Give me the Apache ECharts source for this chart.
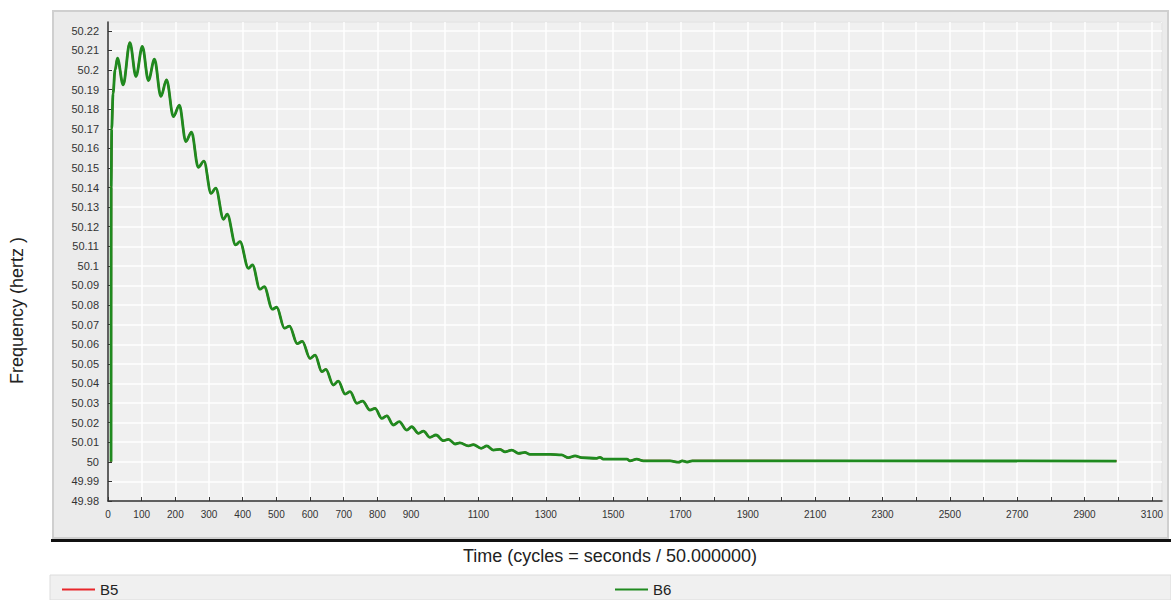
<!DOCTYPE html>
<html>
<head>
<meta charset="utf-8">
<script src="https://cdn.jsdelivr.net/npm/echarts@6/dist/echarts.min.js"></script>
<style>
  html, body { margin: 0; padding: 0; background: #fff; }
  #chart { width: 1171px; height: 600px; }
</style>
</head>
<body>
<div id="chart"></div>
<script>
// time in cycles
var times = [9, 9.5, 11, 15, 21, 28, 45, 65, 83, 102, 120, 138, 157, 174, 194, 212, 231, 248, 268, 285,
  306, 320, 343, 354, 379, 392, 417, 429, 451, 464, 488, 501, 524, 539, 562, 577, 600, 615, 635, 647,
  669, 684, 704, 719, 739, 756, 778, 793, 813, 828, 847, 865, 887, 902, 922, 937, 956, 974, 996, 1011,
  1031, 1045, 1070, 1085, 1108, 1125, 1144, 1164, 1179, 1199, 1219, 1238, 1253, 1313, 1347, 1367, 1387, 1407, 1451, 1461,
  1471, 1541, 1550, 1570, 1590, 1669, 1695, 1705, 1720, 1735, 1760, 2995];
// frequency of bus B6 (hertz)
var freqB6 = [50.000, 50.140, 50.170, 50.188, 50.200, 50.206, 50.1924, 50.214, 50.1967, 50.212, 50.1946, 50.2055, 50.1865, 50.195, 50.1762, 50.182, 50.1635, 50.1683, 50.1503, 50.1535,
  50.1370, 50.1397, 50.1238, 50.1264, 50.1107, 50.1124, 50.0988, 50.1005, 50.0881, 50.0894, 50.0779, 50.0789, 50.0682, 50.0693, 50.0603, 50.0615, 50.0528, 50.0545, 50.0460, 50.0472,
  50.0392, 50.0412, 50.0346, 50.0358, 50.0299, 50.0310, 50.0264, 50.0273, 50.0222, 50.0235, 50.0188, 50.0205, 50.0162, 50.0179, 50.0145, 50.0157, 50.0125, 50.0137, 50.0108, 50.0115,
  50.0091, 50.0097, 50.0081, 50.0088, 50.0069, 50.0081, 50.0060, 50.0064, 50.0051, 50.0060, 50.0043, 50.0048, 50.0038, 50.0038, 50.0035, 50.0021, 50.0030, 50.0021, 50.0018, 50.0023,
  50.0014, 50.0014, 50.0005, 50.0014, 50.0005, 50.0005, 49.9998, 50.0005, 49.9999, 50.0005, 50.0005, 50.0004];
// B5 is hidden under B6 in the picture
var freqB5 = freqB6;

var seriesNames = ['B5', 'B6'];
var seriesColors = ['#e8262b', '#1f8a1f'];

var yMin = 49.98, yMax = 50.2245, yStep = 0.01;
var xMin = 0, xMax = 3130, xStep = 100;

function pairs(xs, ys) {
  return xs.map(function (x, i) { return [x, ys[i]]; });
}

var myChart = echarts.init(document.getElementById('chart'), null, { renderer: 'svg' });

myChart.setOption({
  animation: false,
  backgroundColor: '#ffffff',
  textStyle: { fontFamily: 'Arial, "Liberation Sans", sans-serif' },
  grid: {
    left: 108, top: 22, right: 9, bottom: 99,
    show: true,
    backgroundColor: '#f0f0f0',
    borderColor: '#555',
    borderWidth: 1
  },
  graphic: [
    // outer grey panel
    { type: 'rect', z: -10, shape: { x: 53, y: 11, width: 1115, height: 527 },
      style: { fill: '#ebebeb', stroke: '#cfcfcf', lineWidth: 2 } },
    // heavy separator line
    { type: 'rect', z: -9, shape: { x: 51, y: 539, width: 1120, height: 3 },
      style: { fill: '#111' } },
    // legend strip
    { type: 'rect', z: -10, shape: { x: 50, y: 575, width: 1121, height: 25 },
      style: { fill: '#f0f0f0', stroke: '#dcdcdc', lineWidth: 1 } },
    { type: 'text', left: 463, top: 547,
      style: { text: 'Time (cycles = seconds / 50.000000)', fontSize: 18, fill: '#222',
        fontFamily: 'Arial, "Liberation Sans", sans-serif' } },
    { type: 'text', x: 8, y: 384, rotation: Math.PI / 2,
      style: { text: 'Frequency (hertz )', fontSize: 18, fill: '#222',
        fontFamily: 'Arial, "Liberation Sans", sans-serif' } }
  ],
  legend: [
    { data: [seriesNames[0]], left: 60, top: 580, padding: 2, icon: 'rect', itemWidth: 33, itemHeight: 2,
      itemGap: 0, textStyle: { fontSize: 15, color: '#222' } },
    { data: [seriesNames[1]], left: 613, top: 580, padding: 2, icon: 'rect', itemWidth: 33, itemHeight: 2,
      itemGap: 0, textStyle: { fontSize: 15, color: '#222' } }
  ],
  xAxis: {
    type: 'value',
    min: xMin, max: xMax, interval: xStep,
    axisLine: { show: true, lineStyle: { color: '#333', width: 1.5 } },
    axisTick: { show: true, inside: true, length: 4, lineStyle: { color: '#333' } },
    axisLabel: {
      show: true, interval: 0, showMaxLabel: false, margin: 8,
      fontSize: 10, color: '#333',
      formatter: function (v) {
        return (v < 1000 || (Math.round(v / 100) % 2 === 1)) ? String(v) : '';
      }
    },
    splitLine: { show: true, lineStyle: { color: '#ffffff', width: 1.5 } }
  },
  yAxis: {
    type: 'value',
    min: yMin, max: yMax, interval: yStep,
    axisLine: { show: true, lineStyle: { color: '#333', width: 1.5 } },
    axisTick: { show: true, inside: true, length: 4, lineStyle: { color: '#333' } },
    axisLabel: {
      show: true, showMaxLabel: false, margin: 9,
      fontSize: 11, color: '#333',
      formatter: function (v) { return String(+v.toFixed(2)); }
    },
    splitLine: { show: true, lineStyle: { color: '#ffffff', width: 1.5 } }
  },
  series: [
    {
      name: seriesNames[0], type: 'line', showSymbol: false, smooth: 0.35, smoothMonotone: 'x',
      color: seriesColors[0], lineStyle: { width: 2, color: seriesColors[0] },
      data: pairs(times, freqB5)
    },
    {
      name: seriesNames[1], type: 'line', showSymbol: false, smooth: 0.35, smoothMonotone: 'x',
      color: seriesColors[1], lineStyle: { width: 2.8, color: seriesColors[1] },
      data: pairs(times, freqB6)
    }
  ]
});
</script>
</body>
</html>
